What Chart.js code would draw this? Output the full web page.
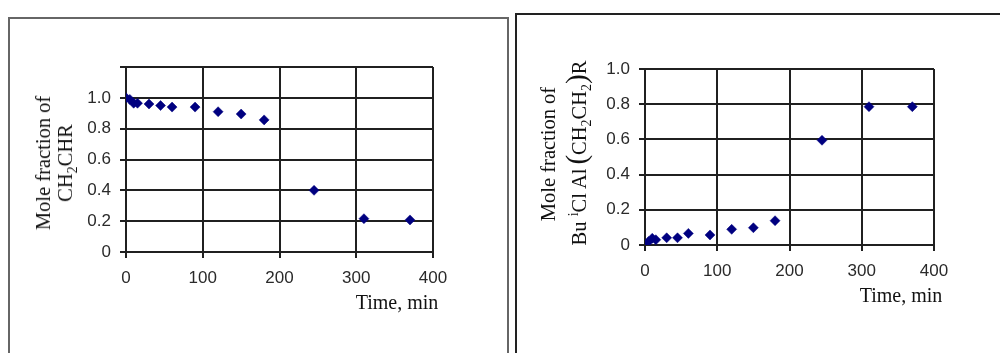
<!DOCTYPE html>
<html>
<head>
<meta charset="utf-8">
<script src="https://cdn.jsdelivr.net/npm/chart.js@4/dist/chart.umd.min.js"></script>
<style>
  html, body { margin: 0; padding: 0; background: #fff; width: 1000px; height: 353px; overflow: hidden; position: relative; }
  canvas { position: absolute; top: 0; }
  .panelL { position: absolute; left: 8px; top: 17px; width: 497px; height: 400px; border: 2px solid #666; }
  .panelR { position: absolute; left: 515px; top: 13px; width: 600px; height: 400px; border: 2px solid #222; }
  .ytitle { position: absolute; font-family: "Liberation Serif", serif; font-size: 20.5px; color: #111; white-space: nowrap; transform: translate(-50%, -50%) rotate(-90deg); text-align: center; line-height: 22px; }
  .xtitle { position: absolute; font-family: "Liberation Serif", serif; font-size: 20px; color: #111; white-space: nowrap; transform: translate(-50%, -50%); }
  .big { font-size: 29px; line-height: 22px; }
  sub, sup { font-size: 14px; line-height: 0; }
  .sp { margin-left: 4px; }
</style>
</head>
<body>
<div class="panelL"></div>
<div class="panelR"></div>
<canvas id="c1" width="500" height="353" style="left:0px;width:500px;height:353px"></canvas>
<canvas id="c2" width="480" height="353" style="left:520px;width:480px;height:353px"></canvas>

<div class="ytitle" style="left:54px; top:163px;">Mole fraction of<br>CH<sub>2</sub>CHR</div>
<div class="ytitle" style="left:548px; top:154px;">Mole fraction of</div>
<div class="ytitle" style="left:577px; top:153px;">Bu <sup>i</sup>Cl Al<span class="big sp">(</span>CH<sub>2</sub>CH<sub>2</sub><span class="big">)</span>R</div>
<div class="xtitle" style="left:397px; top:302px;">Time, min</div>
<div class="xtitle" style="left:901px; top:295px;">Time, min</div>

<script>
// ---- data ----
const timesLeft = [0, 5, 10, 15, 30, 45, 60, 90, 120, 150, 180, 245, 310, 370];
const monomerFraction = [1.0, 0.99, 0.965, 0.965, 0.96, 0.95, 0.94, 0.94, 0.91, 0.895, 0.857, 0.40, 0.216, 0.208];
const timesRight = [0, 5, 10, 15, 30, 45, 60, 90, 120, 150, 180, 245, 310, 370];
const alkylFraction = [0, 0.02, 0.038, 0.03, 0.041, 0.041, 0.066, 0.057, 0.089, 0.098, 0.138, 0.595, 0.786, 0.786];
const xTicks = [0, 100, 200, 300, 400];
const yTicksLeft = [0, 0.2, 0.4, 0.6, 0.8, 1.0, 1.2];
const yTicksRight = [0, 0.2, 0.4, 0.6, 0.8, 1.0];

Chart.defaults.animation = false;
Chart.defaults.font.family = '"Liberation Sans", Arial, sans-serif';

function pts(xs, ys) { return xs.map((x, i) => ({ x: x, y: ys[i] })); }

function makeChart(id, xs, ys, yTickVals, yMax, hideTop, pad, yW, xH) {
  const lineCol = '#202020';
  return new Chart(document.getElementById(id), {
    type: 'scatter',
    data: {
      datasets: [{
        data: pts(xs, ys),
        pointStyle: 'rectRot',
        pointRadius: 5,
        pointBackgroundColor: '#000080',
        pointBorderColor: '#000080',
        pointBorderWidth: 0.5
      }]
    },
    options: {
      responsive: false,
      devicePixelRatio: 1,
      layout: { padding: pad },
      plugins: { legend: { display: false }, tooltip: { enabled: false } },
      scales: {
        x: {
          type: 'linear', min: 0, max: 400,
          afterBuildTicks: s => { s.ticks = xTicks.map(v => ({ value: v })); },
          afterFit: s => { s.height = xH; },
          grid: { color: lineCol, lineWidth: 2, tickLength: 6, tickColor: lineCol },
          border: { color: lineCol, width: 2 },
          ticks: { color: '#2a2a2a', font: { size: 17 }, padding: 10, maxRotation: 0,
                   callback: v => String(v) }
        },
        y: {
          type: 'linear', min: 0, max: yMax,
          afterBuildTicks: s => { s.ticks = yTickVals.map(v => ({ value: v })); },
          afterFit: s => { s.width = yW; },
          grid: { color: lineCol, lineWidth: 2, tickLength: 6, tickColor: lineCol },
          border: { color: lineCol, width: 2 },
          ticks: { color: '#2a2a2a', font: { size: 17 }, padding: 9,
                   callback: v => {
                     if (hideTop && Math.abs(v - yMax) < 1e-9) return '';
                     return v === 0 ? '0' : v.toFixed(1);
                   } }
        }
      }
    }
  });
}

makeChart('c1', timesLeft, monomerFraction, yTicksLeft, 1.2, true,
  { left: 0, top: 67, right: 67, bottom: 0 }, 126, 101);
makeChart('c2', timesRight, alkylFraction, yTicksRight, 1.0, false,
  { left: 0, top: 69, right: 66, bottom: 0 }, 125, 108);
</script>
</body>
</html>
